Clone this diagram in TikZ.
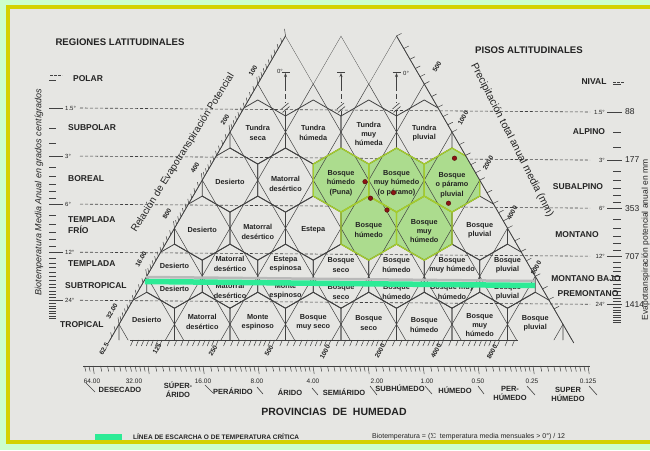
\documentclass[tikz,border=0pt]{standalone}
\usepackage{fontspec}
\setmainfont{Liberation Sans}
\usetikzlibrary{arrows.meta}
\definecolor{mint}{RGB}{204,255,204}
\definecolor{frameyellow}{RGB}{212,210,0}
\definecolor{paper}{RGB}{230,230,227}
\definecolor{ink}{RGB}{35,35,35}
\definecolor{lineink}{RGB}{65,65,65}
\definecolor{hexgreen}{RGB}{172,220,142}
\definecolor{hexedge}{RGB}{165,205,45}
\definecolor{frost}{RGB}{45,235,150}
\definecolor{dotred}{RGB}{140,20,20}
\tikzset{
  lat/.style={draw=lineink,line width=0.5pt},
  hexl/.style={draw=lineink,line width=0.8pt},
  hdash/.style={draw=lineink,line width=0.6pt,dash pattern=on 3pt off 2pt},
  tk/.style={draw=lineink,line width=0.5pt},
  zone/.style={font=\fontsize{7.3}{9.3}\selectfont\bfseries,text=ink,align=center,inner sep=0pt},
  region/.style={font=\fontsize{8.5}{10.5}\selectfont\bfseries,text=ink,inner sep=0pt,align=left},
  titl/.style={font=\fontsize{9.6}{11}\selectfont\bfseries,text=ink,inner sep=0pt},
  prov/.style={font=\fontsize{7.5}{9}\selectfont\bfseries,text=ink,align=center,inner sep=0pt},
  axnum/.style={font=\fontsize{6.5}{7}\selectfont\bfseries,text=ink,inner sep=0pt,rotate=60},
  humnum/.style={font=\fontsize{6.5}{7}\selectfont,text=ink,inner sep=0pt},
  degl/.style={font=\fontsize{6}{7}\selectfont,text=ink,inner sep=0pt},
  petnum/.style={font=\fontsize{8.5}{9}\selectfont,text=ink,inner sep=0pt,anchor=west},
  reddot/.style={circle,fill=dotred,draw=dotred!60!black,inner sep=0pt,minimum size=4.6pt},
}
\newcommand\hexat[2]{(#1,#2-32.04) -- (#1+27.75,#2-16.02) -- (#1+27.75,#2+16.02) -- (#1,#2+32.04) -- (#1-27.75,#2+16.02) -- (#1-27.75,#2-16.02) -- cycle}
\begin{document}
\begin{tikzpicture}[x=1pt,y=-1pt]
\useasboundingbox (0,0) rectangle (650,450);
\fill[mint] (0,0) rectangle (650,450);
\fill[paper] (8,7) rectangle (665,442);
\draw[frameyellow,line width=3.8pt] (8,7) rectangle (665,442);

% horizontal biotemperature lines (slightly tilted as in the scan)
\foreach \yy in {108,156.065,204.13,252.195,300.26}{
  \draw[hdash] (80,\yy) -- (590,\yy+4);
}

% hexagon field
\begin{scope}
\clip (285.5,35.9) -- (313.25,83.97) -- (341,35.9) -- (368.75,83.97) -- (396.5,35.9) -- (572.07,340) -- (109.93,340) -- cycle;
\foreach \cx/\cy in {341/180.065,396.5/180.065,452/180.065,368.75/228.13,424.25/228.13}{
  \fill[hexgreen] \hexat{\cx}{\cy};
}
\foreach \m in {0,...,9}{
  \draw[lat] ({306.227+55.5*\m},0) -- ({107.04+55.5*\m},345);
  \draw[lat] ({375.773-55.5*\m},0) -- ({574.96-55.5*\m},345);
}
\foreach \r in {1,...,5}{
  \pgfmathtruncatemacro\nn{\r+3}
  \pgfmathsetmacro\cy{132+(\r-1)*48.065}
  \foreach \j in {1,...,\nn}{
    \pgfmathsetmacro\cx{341+55.5*(\j-1-(\nn-1)/2)}
    \draw[hexl] \hexat{\cx}{\cy};
  }
}
\foreach \cx/\cy in {341/180.065,396.5/180.065,452/180.065,368.75/228.13,424.25/228.13}{
  \draw[hexedge,line width=1.3pt] \hexat{\cx}{\cy};
}
\end{scope}

% triangle edges and baseline
\draw[hexl] (285.5,35.9) -- (108.2,343);
\draw[hexl] (396.5,35.9) -- (573.8,343);
\draw[hexl] (130,340) -- (518,340);

% edge ticks
\foreach \k in {0,...,6}{\foreach \i in {0,...,9}{
  \pgfmathsetmacro\ty{35.9+48.065*(\k+ln(1+\i/10)/ln(2))}
  \pgfmathsetmacro\tl{\i==0 ? 7 : 4.5}
  \pgfmathsetmacro\txl{285.5-(\ty-35.9)*0.57735}
  \pgfmathsetmacro\txr{396.5+(\ty-35.9)*0.57735}
  \ifdim\ty pt<337pt \draw[tk] (\txl,\ty) -- ++(-1,-\tl); \fi
  \ifodd\i\else\ifdim\ty pt<310pt \draw[tk] (\txr,\ty) -- ++(5,-2.5); \fi\fi
}}
% baseline ticks
\foreach \k in {-1,...,6}{\foreach \i in {0,...,9}{
  \pgfmathsetmacro\tx{162+56.3*(\k+ln(1+\i/10)/ln(2))}
  \ifdim\tx pt>131pt \ifdim\tx pt<518pt \draw[tk] (\tx,340) -- ++(-2.5,6); \fi\fi
}}
% humidity axis
\draw[hexl] (83,366) -- (590,366);
\foreach \k in {-1,...,9}{\foreach \i in {0,...,9}{
  \pgfmathsetmacro\tx{93+55*(\k+ln(1+\i/10)/ln(2))}
  \pgfmathsetmacro\tl{\i==0 ? 8 : 5.5}
  \ifdim\tx pt>84pt \ifdim\tx pt<590pt \draw[tk] (\tx,366) -- ++(1.2,\tl); \fi\fi
}}
\foreach \xa/\ya/\xb/\yb in {86/383/95/392,205/385/213/393,257/387/263/394,312/388/318/395,370/386/377/395,425/386/432/394,478/386/484/394,527/386/535/395,589/386/597/395}{
  \draw[tk,line width=0.6pt] (\xa,\ya) -- (\xb,\yb);
}

% temperature scales at both sides
\foreach \T in {1,1.5,2,2.5,3,3.5,4,4.5,5,5.5,6}{
  \pgfmathsetmacro\ty{108+48.065*ln(\T/1.5)/ln(2)}
  \draw[tk] (49,\ty) -- (56,\ty);
  \draw[tk] (613,\ty+4) -- (621,\ty+4);
}
\foreach \T in {7,...,31}{
  \pgfmathsetmacro\ty{108+48.065*ln(\T/1.5)/ln(2)}
  \draw[tk] (49,\ty) -- (56,\ty);
  \draw[tk] (613,\ty+4) -- (621,\ty+4);
}
\draw[tk,dash pattern=on 2.5pt off 1.5pt] (50,75) -- (62,75);
\draw[tk,dash pattern=on 2.5pt off 1.5pt] (613,82) -- (625,82);
\foreach \yy/\lab/\pet in {108/1.5°/88,156.065/3°/177,204.13/6°/353,252.195/12°/707,300.26/24°/1414}{
  \draw[tk,line width=0.7pt] (49,\yy) -- (63,\yy);
  \node[degl,anchor=west] (L\pet) at (65,\yy) {\lab};
  \node[degl,anchor=east] (R\pet) at (605,\yy+4) {\lab};
  \draw[tk,line width=0.7pt] (607,\yy+4) -- (622,\yy+4);
  \node[petnum] (P\pet) at (625,\yy+4) {\pet};
}

% 0 degree markers
\foreach \xx in {285.5,341,396.5}{
  \draw[tk,line width=0.7pt] (\xx-4,72) -- (\xx+4,72);
  \draw[tk,dash pattern=on 5pt off 3pt] (\xx,86) -- (\xx,103);
  \draw[lineink,line width=0.6pt,-{Stealth[length=4pt,width=3pt]}] (\xx,86) -- (\xx,73);
  \draw[tk] (\xx,111) -- (\xx,116);
  \draw[tk,line width=0.6pt] (\xx-4,109) -- (\xx+3,103);
  \draw[tk,line width=0.6pt] (\xx-3,112.5) -- (\xx+4,106.5);
}
\node[degl,anchor=east] (z0a) at (283,71) {0°};
\node[degl,anchor=west] (z0b) at (403,73) {0°};

% zone labels
\node[zone] (r1a) at (257.75,133) {Tundra\\seca};
\node[zone] (r1b) at (313.25,133) {Tundra\\húmeda};
\node[zone] (r1c) at (368.75,134) {Tundra\\muy\\húmeda};
\node[zone] (r1d) at (424.25,133) {Tundra\\pluvial};
\node[zone] (r2a) at (230,182) {Desierto};
\node[zone] (r2b) at (285.5,184) {Matorral\\desértico};
\node[zone] (r2c) at (341,183) {Bosque\\húmedo\\(Puna)};
\node[zone] (r2d) at (396.5,183) {Bosque\\muy húmedo\\(o páramo)};
\node[zone] (r2e) at (452,185) {Bosque\\o páramo\\pluvial};
\node[zone] (r3a) at (202.25,230) {Desierto};
\node[zone] (r3b) at (257.75,232) {Matorral\\desértico};
\node[zone] (r3c) at (313.25,230) {Estepa};
\node[zone] (r3d) at (368.75,230) {Bosque\\húmedo};
\node[zone] (r3e) at (424.25,231) {Bosque\\muy\\húmedo};
\node[zone] (r3f) at (479.75,230) {Bosque\\pluvial};
\node[zone] (r4a) at (174.5,266) {Desierto};
\node[zone] (r4b) at (230,264) {Matorral\\desértico};
\node[zone] (r4c) at (285.5,264) {Estepa\\espinosa};
\node[zone] (r4d) at (341,265) {Bosque\\seco};
\node[zone] (r4e) at (396.5,265) {Bosque\\húmedo};
\node[zone] (r4f) at (452,265) {Bosque\\muy húmedo};
\node[zone] (r4g) at (507.5,265) {Bosque\\pluvial};
\node[zone] (r5a) at (174.5,289) {Desierto};
\node[zone] (r5b) at (230,291) {Matorral\\desértico};
\node[zone] (r5c) at (285.5,291) {Monte\\espinoso};
\node[zone] (r5d) at (341,292) {Bosque\\seco};
\node[zone] (r5e) at (396.5,292) {Bosque\\húmedo};
\node[zone] (r5f) at (452,292) {Bosque muy\\húmedo};
\node[zone] (r5g) at (507.5,292) {Bosque\\pluvial};
\node[zone] (r6a) at (146.75,320) {Desierto};
\node[zone] (r6b) at (202.25,322) {Matorral\\desértico};
\node[zone] (r6c) at (257.75,322) {Monte\\espinoso};
\node[zone] (r6d) at (313.25,322) {Bosque\\muy seco};
\node[zone] (r6e) at (368.75,323) {Bosque\\seco};
\node[zone] (r6f) at (424.25,325) {Bosque\\húmedo};
\node[zone] (r6g) at (479.75,325) {Bosque\\muy\\húmedo};
\node[zone] (r6h) at (535.25,323) {Bosque\\pluvial};

% red dots
\foreach \xx/\yy [count=\c] in {365/181.7,393.5/192.7,370.5/198.2,387/210,454.5/158.2,448.5/203.2}{
  \node[reddot] (dot\c) at (\xx,\yy) {};
}

% frost line
\draw[gray!55,line width=2.5pt] (146,277) -- (535,281);
\draw[frost,line width=5.5pt] (145,281.5) -- (535,285.5);

% axis numbers
\node[axnum] (e1) at (253,71) {100};
\node[axnum] (e2) at (225,120) {200};
\node[axnum] (e3) at (195,168) {400};
\node[axnum] (e4) at (167,214) {800};
\node[axnum] (e5) at (141,259) {16.00};
\node[axnum] (e6) at (112,311) {32.00};
\node[axnum] (e7) at (104,349) {62.5};
\node[axnum] (p1) at (437,67) {500};
\node[axnum] (p2) at (463,118) {1000};
\node[axnum] (p3) at (488,163) {2000};
\node[axnum] (p4) at (512,213) {4000};
\node[axnum] (p5) at (536,268) {8000};
\node[axnum] (b1) at (157,349) {125};
\node[axnum] (b2) at (213,351) {250};
\node[axnum] (b3) at (269,351) {500};
\node[axnum] (b4) at (325,352) {1000};
\node[axnum] (b5) at (380,351) {2000};
\node[axnum] (b6) at (436,351) {4000};
\node[axnum] (b7) at (492,352) {8000};
\foreach \xx/\lab [count=\c] in {92/64.00,134/32.00,203/16.00,257/8.00,313/4.00,377/2.00,427/1.00,478/0.50,532/0.25,588/0.125}{
  \node[humnum] (h\c) at (\xx,381) {\lab};
}

% humidity provinces
\node[prov] (v1) at (120,390) {DESECADO};
\node[prov] (v2) at (178,390) {SÚPER-\\ÁRIDO};
\node[prov] (v3) at (233,391) {PERÁRIDO};
\node[prov] (v4) at (290,392) {ÁRIDO};
\node[prov] (v5) at (344,392) {SEMIÁRIDO};
\node[prov] (v6) at (400,388) {SUBHÚMEDO};
\node[prov] (v7) at (455,390) {HÚMEDO};
\node[prov] (v8) at (510,393) {PER-\\HÚMEDO};
\node[prov] (v9) at (568,394) {SUPER\\HÚMEDO};
\node[font=\fontsize{10.5}{12}\selectfont\bfseries,text=ink,inner sep=0pt] (provt) at (334,412) {PROVINCIAS\ \ DE\ \ HUMEDAD};

% titles and regions
\node[titl] (regt) at (120,42) {REGIONES LATITUDINALES};
\node[titl] (pist) at (529,50) {PISOS ALTITUDINALES};
\node[region,anchor=west] (g1) at (73,79) {POLAR};
\node[region,anchor=west] (g2) at (68,128) {SUBPOLAR};
\node[region,anchor=west] (g3) at (68,179) {BOREAL};
\node[region,anchor=west] (g4) at (68,225) {TEMPLADA\\FRÍO};
\node[region,anchor=west] (g5) at (68,264) {TEMPLADA};
\node[region,anchor=west] (g6) at (65,286) {SUBTROPICAL};
\node[region,anchor=west] (g7) at (60,325) {TROPICAL};
\node[region] (a1) at (594,82) {NIVAL};
\node[region] (a2) at (589,132) {ALPINO};
\node[region] (a3) at (578,187) {SUBALPINO};
\node[region] (a4) at (577,235) {MONTANO};
\node[region] (a5) at (586,279) {MONTANO BAJO};
\node[region] (a6) at (588,294) {PREMONTANO};

% axis titles
\node[font=\fontsize{10}{12}\selectfont,text=ink,inner sep=0pt,rotate=58] (reltit) at (183,153) {Relación de Evapotranspiración Potencial};
\node[font=\fontsize{10.5}{12}\selectfont,text=ink,inner sep=0pt,rotate=-63] (pretit) at (512,140) {Precipitación total anual media (mm)};
\node[font=\fontsize{9}{10}\selectfont\itshape,text=ink,inner sep=0pt,rotate=90] (biotit) at (39,192) {Biotemperatura Media Anual en grados centígrados};
\node[font=\fontsize{8.5}{10}\selectfont,text=ink,inner sep=0pt,rotate=90] (evtit) at (645.5,240) {Evapotranspiración potencial anual en mm};

% legend and formula
\fill[frost] (95,434) rectangle (122,440);
\node[font=\fontsize{6.5}{7}\selectfont\bfseries,text=ink,inner sep=0pt,anchor=west] (legt) at (133,437) {LÍNEA DE ESCARCHA O DE TEMPERATURA CRÍTICA};
\node[font=\fontsize{7}{8}\selectfont,text=ink,inner sep=0pt,anchor=west] (form) at (372,437) {Biotemperatura = ($\Sigma$\ \ temperatura media mensuales > 0°) / 12};
\end{tikzpicture}
\end{document}
